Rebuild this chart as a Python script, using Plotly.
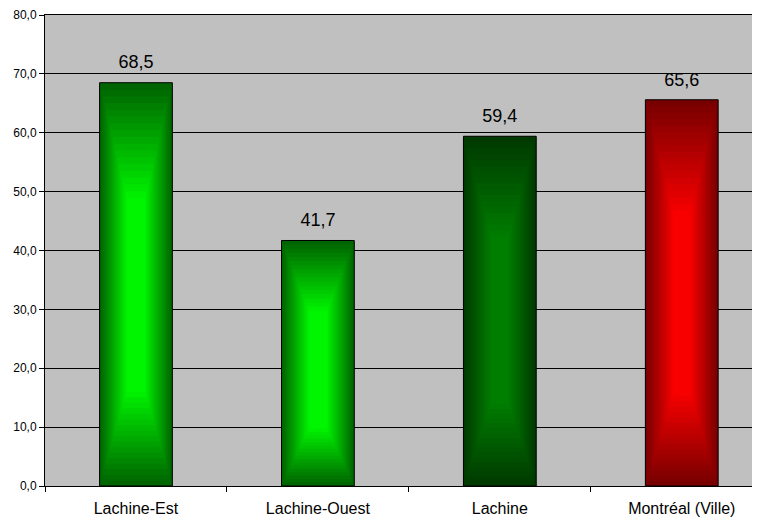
import plotly.graph_objects as go

areas = ['Lachine-Est', 'Lachine-Ouest', 'Lachine', 'Montréal (Ville)']
values = [68.5, 41.7, 59.4, 65.6]
y_ticks = [0, 10, 20, 30, 40, 50, 60, 70, 80]

# edge colour and centre colour of each bar's glow
edge_rgb = [(0, 100, 0), (0, 100, 0), (0, 58, 0), (120, 0, 0)]
glow_rgb = [(0, 255, 0), (0, 255, 0), (0, 130, 0), (255, 0, 0)]

BAR_W = 0.4
STEPS = 18


def mix(a, b, t):
    return 'rgb(%d,%d,%d)' % tuple(round(a[i] + (b[i] - a[i]) * t) for i in range(3))


fig = go.Figure()

# nested bars fake the centre glow of the original
for k in range(STEPS):
    t = k / STEPS
    lo = 0.45 * t * 0.55
    hi = 1 - 0.55 * t * 0.55
    fig.add_trace(go.Bar(
        x=areas,
        y=[v * (hi - lo) for v in values],
        base=[v * lo for v in values],
        width=BAR_W * (1 - 0.8 * t),
        marker=dict(color=[mix(e, g, t) for e, g in zip(edge_rgb, glow_rgb)], line=dict(width=0)),
        hoverinfo='skip',
        showlegend=False,
    ))

# outline
fig.add_trace(go.Bar(
    x=areas,
    y=values,
    width=BAR_W,
    marker=dict(color='rgba(0,0,0,0)', line=dict(color='black', width=1)),
    hoverinfo='skip',
    showlegend=False,
))

# value labels; the invisible marker pushes the text a bit higher
fig.add_trace(go.Scatter(
    x=areas,
    y=values,
    mode='markers+text',
    marker=dict(size=14, color='rgba(0,0,0,0)'),
    text=['%.1f' % v for v in values],
    texttemplate='%{y:.1f}',
    textposition='top center',
    textfont=dict(size=18, color='black'),
    cliponaxis=False,
    hoverinfo='skip',
    showlegend=False,
))

# page body adds 8px, so margins are trimmed by that
fig.update_layout(
    width=752,
    height=510,
    barmode='overlay',
    separators=', ',
    plot_bgcolor='#C0C0C0',
    paper_bgcolor='white',
    font=dict(family='Liberation Sans, Arial', color='black'),
    margin=dict(l=37, r=0, t=7, b=32, autoexpand=False),
    xaxis=dict(
        range=[-0.5, 3.43],
        showgrid=False,
        showline=True,
        linecolor='black',
        linewidth=1,
        mirror=True,
        ticks='outside',
        tickson='boundaries',
        ticklen=5,
        tickcolor='black',
        tickfont=dict(size=16),
        ticklabelstandoff=8,
        automargin=False,
    ),
    yaxis=dict(
        range=[0, 80],
        tickvals=y_ticks,
        tickformat='.1f',
        showgrid=True,
        gridcolor='black',
        gridwidth=1,
        zeroline=False,
        showline=True,
        linecolor='black',
        linewidth=1,
        ticks='outside',
        ticklen=5,
        tickcolor='black',
        tickfont=dict(size=12),
        automargin=False,
    ),
)

fig.write_html('out.html')
